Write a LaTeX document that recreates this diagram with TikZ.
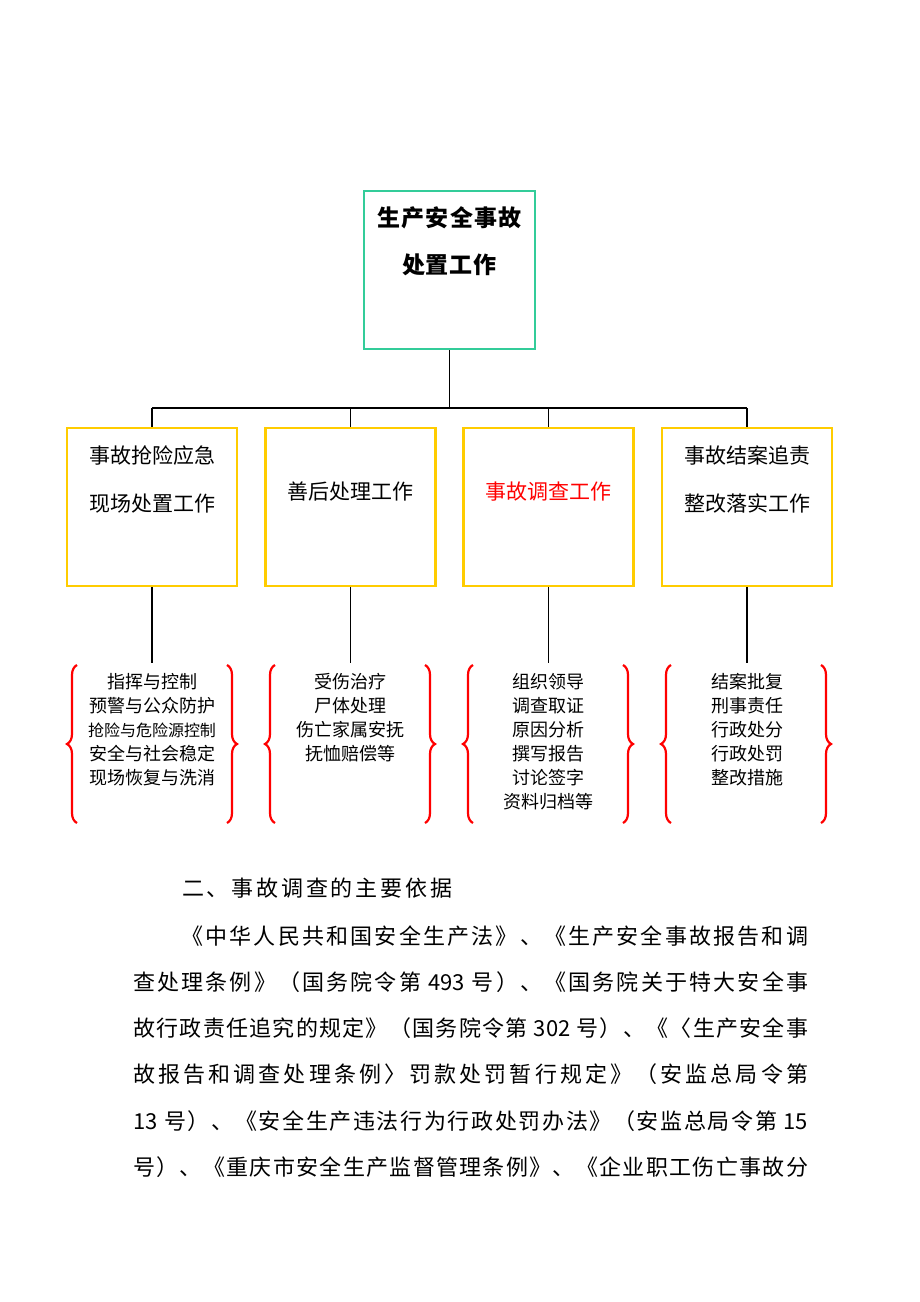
\documentclass[tikz,border=0pt]{standalone}
\usepackage{fontspec}
\setmainfont{Noto Sans CJK SC}
\usetikzlibrary{decorations.pathreplacing}
\definecolor{topc}{HTML}{33CC99}
\definecolor{goldc}{HTML}{FFCC00}
\definecolor{redc}{HTML}{FF0000}
% spread the tokens of a line evenly over a given width
\def\spreadend{\spreadend}
\def\spreadendtok{\spreadend}
\def\spreadfirst#1{#1\spreadrest}
\def\spreadrest#1{\def\sptmp{#1}\ifx\sptmp\spreadendtok\else\hfill#1\expandafter\spreadrest\fi}
\newcommand\spreadline[2]{\hbox to #1{\spreadfirst#2\spreadend}}
\begin{document}
\begin{tikzpicture}[x=1pt,y=-1pt,
  topbox/.style={draw=topc,line width=2.2pt,minimum width=171pt,minimum height=158pt,inner sep=0pt},
  workbox/.style={draw=goldc,line width=2.2pt,minimum width=170pt,minimum height=158pt,inner sep=0pt},
  conn/.style={draw=black,line width=1.2pt},
  curly/.style={draw=redc,line width=2.2pt,decorate,decoration={brace,amplitude=10pt}},
  toptext/.style={inner sep=0pt,font=\fontsize{23pt}{47pt}\selectfont\bfseries},
  boxtext/.style={align=center,inner sep=0pt,font=\fontsize{21pt}{48pt}\selectfont},
  listtext/.style={align=center,inner sep=0pt,anchor=north,font=\fontsize{18pt}{24pt}\selectfont},
  para/.style={anchor=west,inner sep=0pt,font=\fontsize{22pt}{30pt}\selectfont}]
\useasboundingbox (0,0) rectangle (920,1302);
\fill[white] (0,0) rectangle (920,1302);
% top box
\node[topbox] (top) at (449.5,270) {};
\node[toptext] (toplabel1) at (449.5,218) {\spreadline{144pt}{生产安全事故}};
\node[toptext] (toplabel2) at (449.5,265) {\spreadline{95pt}{处置工作}};
% boxes
\node[workbox] (b1) at (152,507) {};
\node[workbox] (b2) at (350.5,507) {};
\node[workbox] (b3) at (548.5,507) {};
\node[workbox] (b4) at (747,507) {};
\node[boxtext] (t1) at (152,479) {事故抢险应急\\现场处置工作};
\node[boxtext] (t2) at (350.5,492) {善后处理工作};
\node[boxtext,text=redc] (t3) at (548.5,492) {事故调查工作};
\node[boxtext] (t4) at (747,479) {事故结案追责\\整改落实工作};
% connectors
\coordinate (bus) at (449.5,408);
\draw[conn] (top.south) -- (bus);
\draw[conn] (b1.north |- bus) -- (b4.north |- bus);
\foreach \b in {b1,b2,b3,b4}{
  \draw[conn] (\b.north |- bus) -- (\b.north);
}
\coordinate (e1) at (152,663);
\coordinate (e2) at (350.5,663);
\coordinate (e3) at (548.5,663);
\coordinate (e4) at (747,663);
\draw[conn] (b1.south) -- (e1);
\draw[conn] (b2.south) -- (e2);
\draw[conn] (b3.south) -- (e3);
\draw[conn] (b4.south) -- (e4);
% braces
\foreach \c in {152,350,548,746}{
  \draw[curly] (\c-75,823) -- (\c-75,665);
  \draw[curly] (\c+75,665) -- (\c+75,823);
}
% lists
\node[listtext] (l1) at (152,673) {指挥与控制\\预警与公众防护\\{\fontsize{16pt}{24pt}\selectfont 抢险与危险源控制}\\安全与社会稳定\\现场恢复与洗消};
\node[listtext] (l2) at (350.5,673) {受伤治疗\\尸体处理\\伤亡家属安抚\\抚恤赔偿等};
\node[listtext] (l3) at (548.5,673) {组织领导\\调查取证\\原因分析\\撰写报告\\讨论签字\\资料归档等};
\node[listtext] (l4) at (747,673) {结案批复\\刑事责任\\行政处分\\行政处罚\\整改措施};
% text
\node[para] (h) at (182,888) {\spreadline{270pt}{二、事故调查的主要依据}};
\node[para] (p1) at (181,936) {\spreadline{627pt}{《中华人民共和国安全生产法》、《生产安全事故报告和调}};
\node[para] (p2) at (133,982) {\spreadline{675pt}{查处理条例》（国务院令第{~493~}号）、《国务院关于特大安全事}};
\node[para] (p3) at (133,1028) {\spreadline{675pt}{故行政责任追究的规定》（国务院令第{~302~}号）、《〈生产安全事}};
\node[para] (p4) at (133,1074.5) {\spreadline{675pt}{故报告和调查处理条例〉罚款处罚暂行规定》（安监总局令第}};
\node[para] (p5) at (133,1121) {\spreadline{675pt}{{13~}号）、《安全生产违法行为行政处罚办法》（安监总局令第{~15}}};
\node[para] (p6) at (133,1167) {\spreadline{675pt}{号）、《重庆市安全生产监督管理条例》、《企业职工伤亡事故分}};
\end{tikzpicture}
\end{document}
